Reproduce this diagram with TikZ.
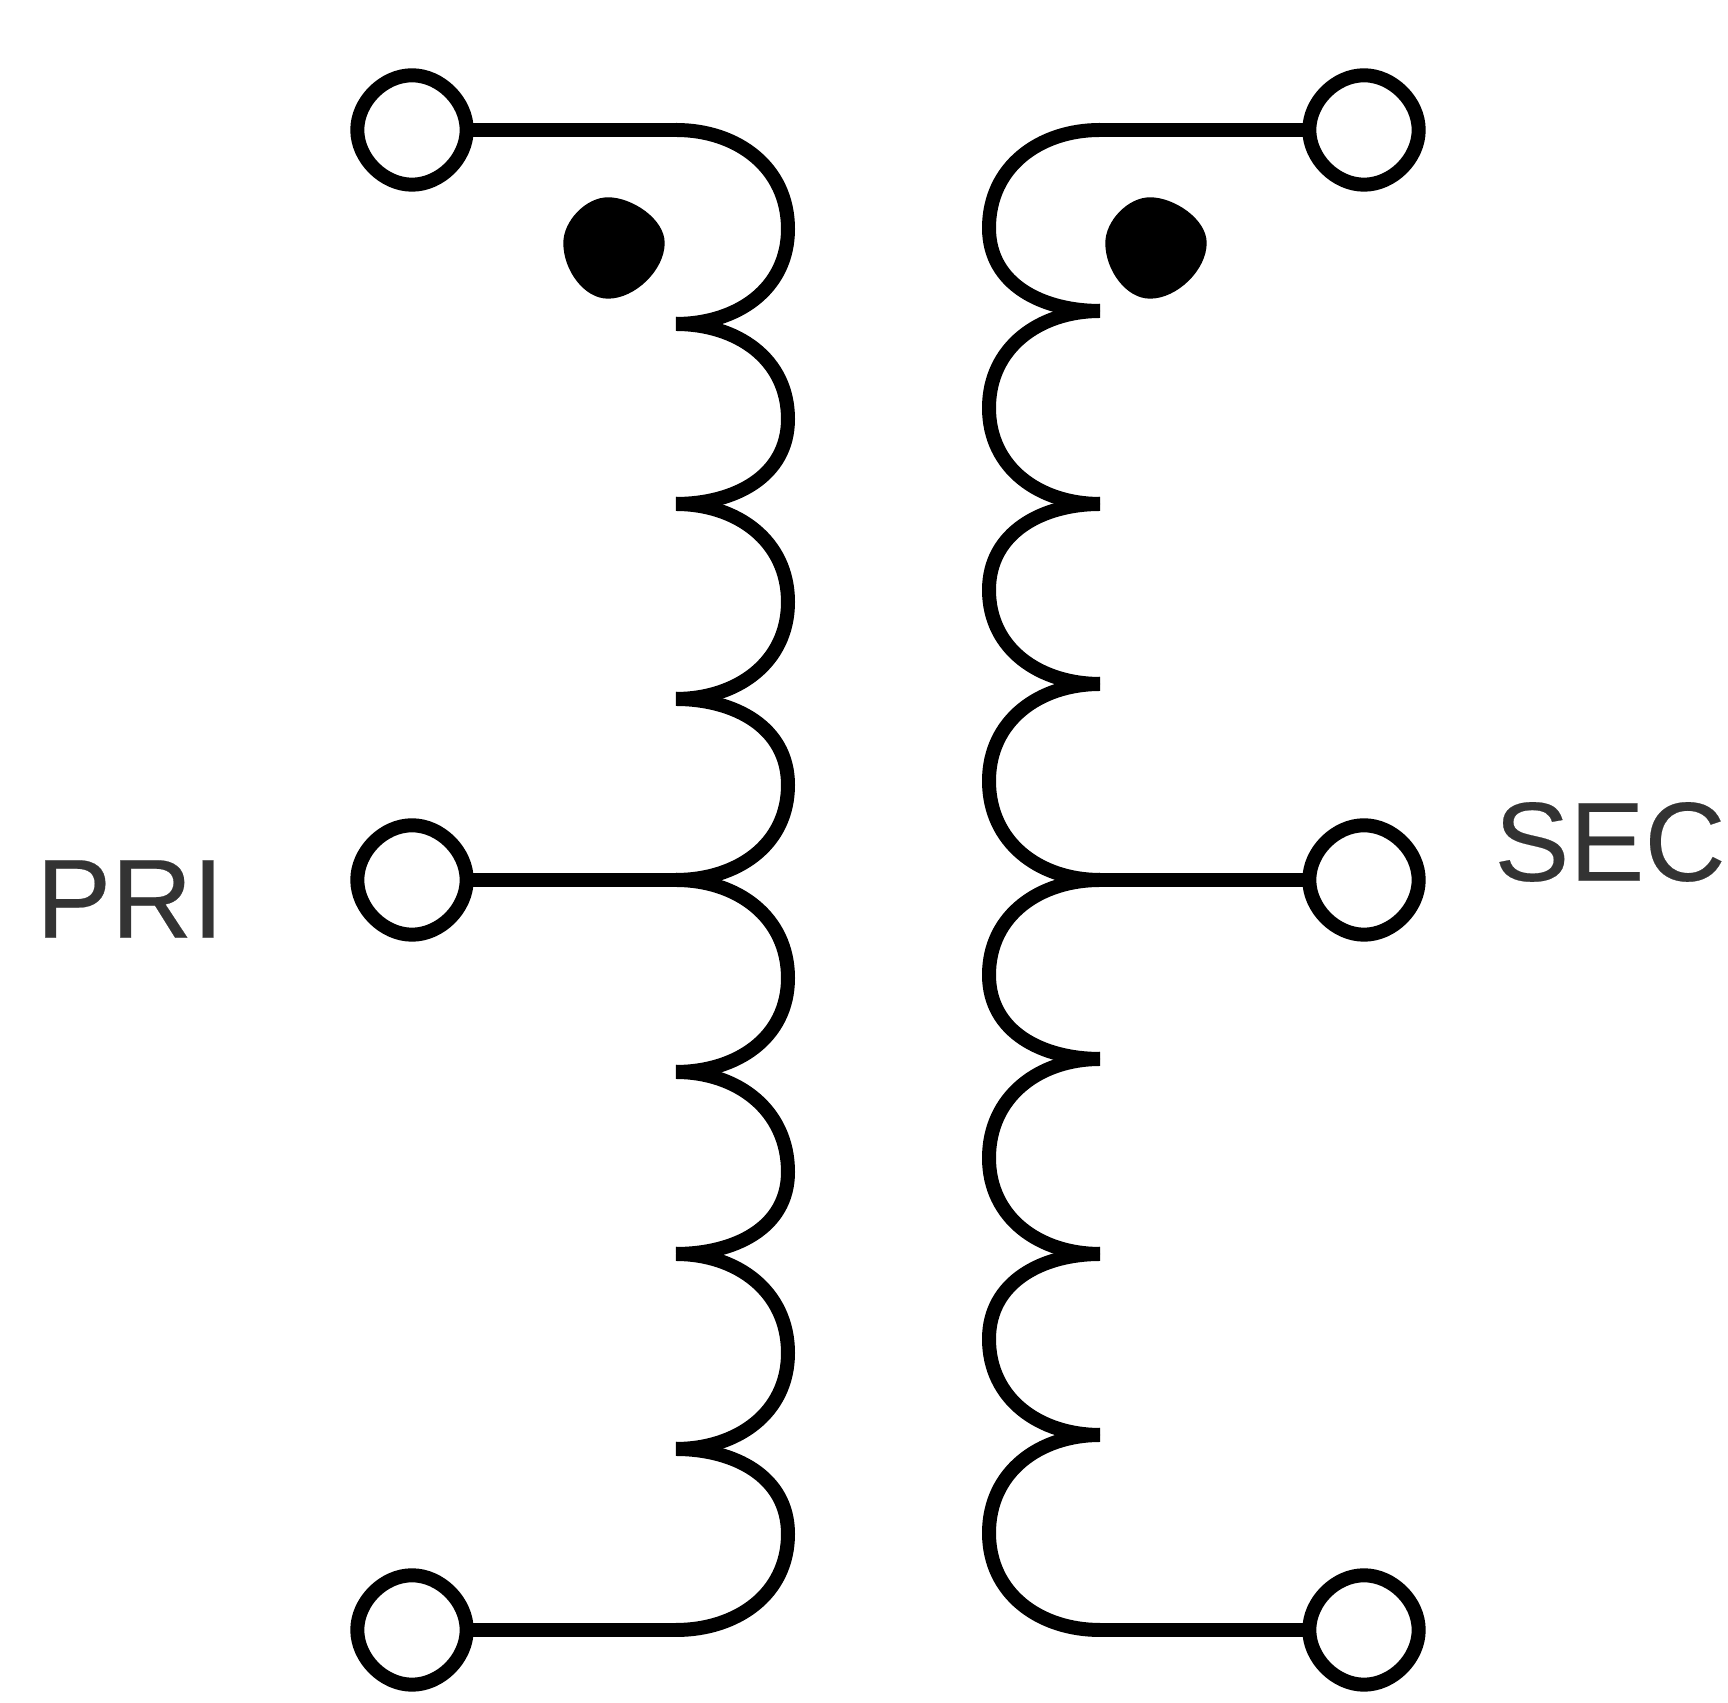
\documentclass[tikz,border=0pt]{standalone}
\usepackage{fontspec}
\setmainfont{Liberation Sans}
\usetikzlibrary{calc}
\definecolor{labelgray}{HTML}{333333}
\tikzset{
  wire/.style={line width=0.14cm, line cap=butt, line join=round},
  terminal/.style={circle, inner sep=0pt, minimum size=1.08cm},
  polarity/.style={circle, inner sep=0pt, minimum size=1.00cm},
  side/.style={text=labelgray, inner sep=0pt, font=\fontsize{32}{38}\selectfont\addfontfeature{FakeBold=0.2}}
}
\begin{document}
\begin{tikzpicture}
      \useasboundingbox (0,0) rectangle (17.28,17.03);

      \node[terminal] (p1) at (4.12,15.73) {};
      \node[terminal] (p2) at (4.12,8.23) {};
      \node[terminal] (p3) at (4.12,0.73) {};
      \node[terminal] (s1) at (13.64,15.73) {};
      \node[terminal] (s2) at (13.64,8.23) {};
      \node[terminal] (s3) at (13.64,0.73) {};
      \node[polarity] (pdot) at (6.14,14.55) {};
      \node[polarity] (sdot) at (11.56,14.55) {};
      \node[side] (pri) at (1.30,8.04) {PRI};
      \node[side] (sec) at (16.10,8.61) {SEC};

      % winding tips
      \foreach \i/\y in {0/15.73,1/13.79,2/11.99,3/10.04,4/8.23,5/6.31,6/4.49,7/2.54,8/0.73}
        \coordinate (l\i) at (6.76,\y);
      \foreach \i/\y in {0/15.73,1/13.92,2/11.99,3/10.19,4/8.23,5/6.44,6/4.49,7/2.68,8/0.73}
        \coordinate (r\i) at (11.00,\y);

      \foreach \i/\j/\m in {0/1/14.74,1/2/12.84,2/3/11.01,3/4/9.18,4/5/7.25,5/6/5.31,6/7/3.50,7/8/1.69}
        \draw[wire] (l\i) to[out=0,in=90,looseness=1.05] (7.88,\m) to[out=-90,in=0,looseness=1.05] (l\j);
      \foreach \i/\j/\m in {0/1/14.75,1/2/12.95,2/3/11.13,3/4/9.22,4/5/7.28,5/6/5.45,6/7/3.64,7/8/1.70}
        \draw[wire] (r\i) to[out=180,in=90,looseness=1.05] (9.89,\m) to[out=-90,in=180,looseness=1.05] (r\j);

      \draw[wire] (p1.east) -- (l0);
      \draw[wire] (p2.east) -- (l4);
      \draw[wire] (p3.east) -- (l8);
      \draw[wire] (s1.west) -- (r0);
      \draw[wire] (s2.west) -- (r4);
      \draw[wire] (s3.west) -- (r8);

      % terminals are a little squarer than circles
      \foreach \n in {p1,p2,p3,s1,s2,s3}
        \draw[wire, fill=white] (\n.north) .. controls +(0.285,0) and +(0,0.285) .. (\n.east)
          .. controls +(0,-0.285) and +(0.285,0) .. (\n.south)
          .. controls +(-0.285,0) and +(0,-0.285) .. (\n.west)
          .. controls +(0,0.285) and +(-0.285,0) .. (\n.north) -- cycle;

      \foreach \n in {pdot,sdot}
        \fill ($(\n.north)+(-0.06,0)$) .. controls +(0.24,0) and +(0,0.24) .. ($(\n.east)+(0,0.05)$)
          .. controls +(0,-0.27) and +(0.27,0) .. ($(\n.south)+(-0.06,0)$)
          .. controls +(-0.24,0) and +(0,-0.27) .. ($(\n.west)+(0,0.05)$)
          .. controls +(0,0.22) and +(-0.22,0) .. ($(\n.north)+(-0.06,0)$) -- cycle;
    \end{tikzpicture}
\end{document}
